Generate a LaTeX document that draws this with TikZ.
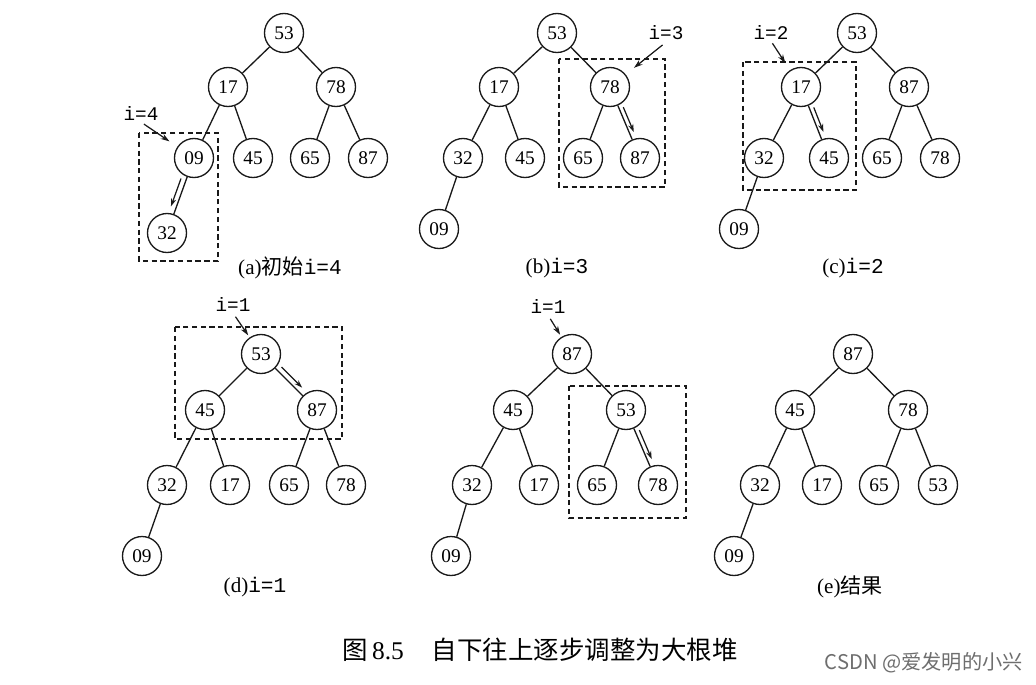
\documentclass[tikz,border=0pt]{standalone}
\usepackage{fontspec}
\setmainfont{Liberation Serif}
\newfontfamily\monof{Liberation Mono}
\newfontfamily\cjk{Noto Sans CJK SC}
\usetikzlibrary{arrows.meta,calc}
\definecolor{wmgray}{RGB}{110,110,110}
\definecolor{ink}{RGB}{25,25,25}
\begin{document}
\begin{tikzpicture}[x=0.02cm,y=-0.02cm,
  hn/.style={circle,draw=ink,line width=0.75pt,minimum size=0.78cm,inner sep=0pt,font=\fontsize{11}{13}\selectfont},
  edge/.style={draw=ink,line width=0.75pt},
  box/.style={draw=ink,line width=0.7pt,dash pattern=on 3pt off 2pt},
  ptr/.style={draw=ink,line width=0.7pt,-{Stealth[length=5pt,width=3.2pt]}},
  mv/.style={draw=ink,line width=0.7pt,-{Stealth[length=4.5pt,width=3pt]},shorten <=13.5pt,shorten >=15pt},
  lab/.style={font=\monof\fontsize{11}{13}\selectfont,inner sep=1pt},
  captxt/.style={font=\fontsize{12}{14}\selectfont,inner sep=1pt}]
\useasboundingbox[fill=white] (0,0) rectangle (1036,684);

% (a)
\node[hn] (a1) at (284,33) {53};
\node[hn] (a2) at (228,87) {17};
\node[hn] (a3) at (336,87) {78};
\node[hn] (a4) at (194,158) {09};
\node[hn] (a5) at (253,158) {45};
\node[hn] (a6) at (310,158) {65};
\node[hn] (a7) at (368,158) {87};
\node[hn] (a8) at (167,233) {32};
% (b)
\node[hn] (b1) at (557,33) {53};
\node[hn] (b2) at (499,87) {17};
\node[hn] (b3) at (610,87) {78};
\node[hn] (b4) at (463,158) {32};
\node[hn] (b5) at (525,158) {45};
\node[hn] (b6) at (583,158) {65};
\node[hn] (b7) at (640,158) {87};
\node[hn] (b8) at (439,229) {09};
% (c)
\node[hn] (c1) at (857,33) {53};
\node[hn] (c2) at (801,87) {17};
\node[hn] (c3) at (909,87) {87};
\node[hn] (c4) at (764,158) {32};
\node[hn] (c5) at (829,158) {45};
\node[hn] (c6) at (882,158) {65};
\node[hn] (c7) at (940,158) {78};
\node[hn] (c8) at (739,229) {09};
% (d)
\node[hn] (d1) at (261,354) {53};
\node[hn] (d2) at (205,410) {45};
\node[hn] (d3) at (317,410) {87};
\node[hn] (d4) at (167,485) {32};
\node[hn] (d5) at (230,485) {17};
\node[hn] (d6) at (289,485) {65};
\node[hn] (d7) at (346,485) {78};
\node[hn] (d8) at (142,556) {09};
% middle bottom
\node[hn] (e1) at (572,354) {87};
\node[hn] (e2) at (513,410) {45};
\node[hn] (e3) at (626,410) {53};
\node[hn] (e4) at (472,485) {32};
\node[hn] (e5) at (539,485) {17};
\node[hn] (e6) at (597,485) {65};
\node[hn] (e7) at (658,485) {78};
\node[hn] (e8) at (451,556) {09};
% (e) result
\node[hn] (f1) at (853,354) {87};
\node[hn] (f2) at (795,410) {45};
\node[hn] (f3) at (908,410) {78};
\node[hn] (f4) at (760,485) {32};
\node[hn] (f5) at (822,485) {17};
\node[hn] (f6) at (879,485) {65};
\node[hn] (f7) at (938,485) {53};
\node[hn] (f8) at (734,556) {09};

\foreach \p in {a,b,c,d,e,f}{
  \foreach \u/\v in {1/2,1/3,2/4,2/5,3/6,3/7,4/8}{
    \draw[edge] (\p\u) -- (\p\v);
  }
}

% dashed boxes
\draw[box] (139,133) rectangle (218,261);
\draw[box] (559,59) rectangle (665,187);
\draw[box] (743,62) rectangle (856,190);
\draw[box] (175,327) rectangle (342,439);
\draw[box] (569,386) rectangle (686,518);

% movement arrows
\draw[mv] ($(a4)!3pt!-90:(a8)$) -- ($(a8)!3pt!90:(a4)$);
\draw[mv] ($(b3)!2.5pt!90:(b7)$) -- ($(b7)!2.5pt!-90:(b3)$);
\draw[mv] ($(c2)!2.5pt!90:(c5)$) -- ($(c5)!2.5pt!-90:(c2)$);
\draw[mv] ($(d1)!3pt!90:(d3)$) -- ($(d3)!3pt!-90:(d1)$);
\draw[mv] ($(e3)!2.5pt!90:(e7)$) -- ($(e7)!2.5pt!-90:(e3)$);

% i= labels
\node[lab] (la) at (141,113) {i=4};
\node[lab] (lb) at (666,33) {i=3};
\node[lab] (lc) at (771,32) {i=2};
\node[lab] (ld) at (233,304) {i=1};
\node[lab] (le) at (548,306) {i=1};
\draw[ptr,shorten <=2pt,shorten >=5.4pt] (la.south) -- (a4);
\draw[ptr,shorten <=2.5pt,shorten >=6pt] (lb.south) -- (b3);
\draw[ptr,shorten <=1.5pt,shorten >=4.8pt] (lc.south) -- (c2);
\draw[ptr,shorten <=2.5pt,shorten >=1.4pt] (ld.south) -- (d1);
\draw[ptr,shorten <=2.5pt,shorten >=1.4pt] (le.south) -- (e1);

% captions
\node[captxt] (ca) at (290,268) {(a){\cjk 初始}{\monof i=4}};
\node[captxt] (cb) at (557,268) {(b){\monof i=3}};
\node[captxt] (cc) at (853,268) {(c){\monof i=2}};
\node[captxt] (cd) at (255,587) {(d){\monof i=1}};
\node[captxt] (ce) at (850,587) {(e){\cjk 结果}};

\node[font=\fontsize{14.5}{17}\selectfont,inner sep=1pt] (title) at (540,650) {{\cjk 图}\,8.5\hspace{1.1em}{\cjk 自下往上逐步调整为大根堆}};
\node[font=\cjk\fontsize{11.5}{13}\selectfont,text=wmgray,anchor=east,inner sep=0pt] (wm) at (1023,663) {CSDN @爱发明的小兴};
\end{tikzpicture}
\end{document}
